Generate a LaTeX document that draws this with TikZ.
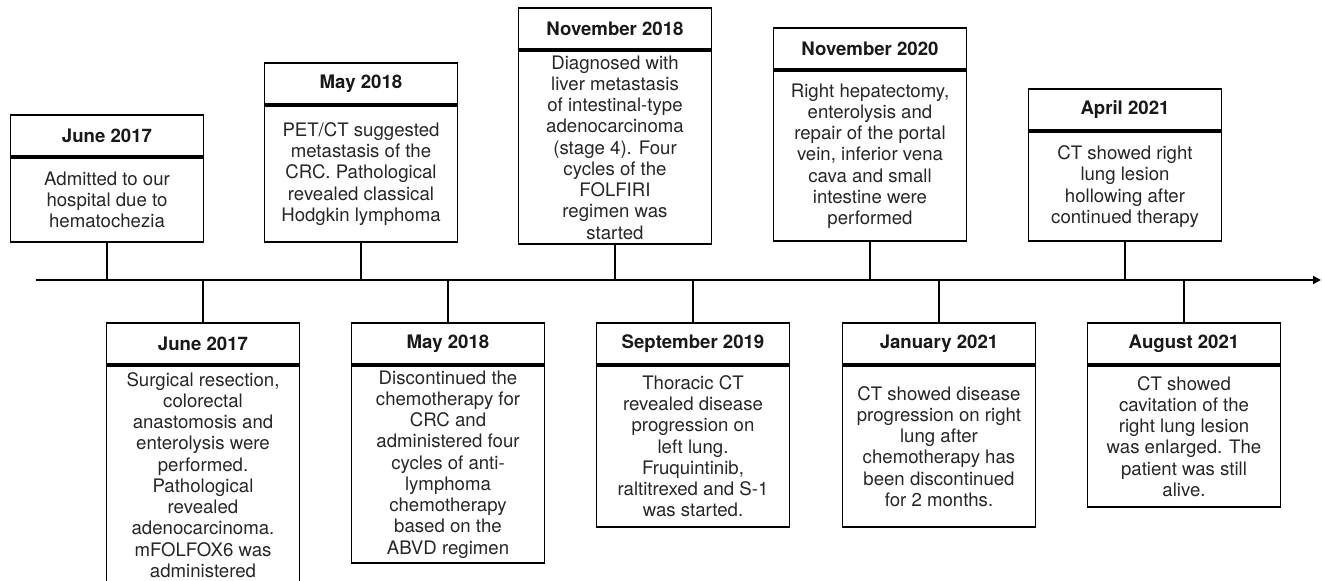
\documentclass[tikz,border=0pt]{standalone}
\usepackage{fontspec}
\setmainfont{TeX Gyre Heros}
\usetikzlibrary{positioning}
\usetikzlibrary{arrows.meta}

\begin{document}
\begin{tikzpicture}[
  x=0.02cm, y=-0.02cm,
  line width=1.1pt,
  datebox/.style={draw, minimum width=3.86cm, minimum height=0.82cm, inner sep=1pt,
    text=black!90, font={\fontsize{10.6pt}{12.1pt}\selectfont\bfseries}},
  eventbox/.style={draw, minimum width=3.86cm, inner sep=1pt, align=center,
    text=black!85, font={\fontsize{10.6pt}{12.1pt}\selectfont}}
]

\useasboundingbox (0,0) rectangle (1322,581);

% time axis
\coordinate (start) at (36,280);
\coordinate (end) at (1321,280);
\draw [-{Triangle[length=4.5pt,width=4.5pt]}] (start) -- (end);

% events above the axis
\node (admit) [eventbox, minimum height=1.68cm, anchor=south] at (107,243) {
  Admitted to our\\hospital due to\\hematochezia
};
\node (admitDate) [datebox, above=0pt of admit] {June 2017};

\node (petct) [eventbox, minimum height=2.72cm, anchor=south] at (361,243) {
  PET/CT suggested\\metastasis of the\\CRC. Pathological\\revealed classical\\Hodgkin lymphoma
};
\node (petctDate) [datebox, above=0pt of petct] {May 2018};

\node (liver) [eventbox, minimum height=3.86cm, anchor=south] at (615,245) {
  Diagnosed with\\liver metastasis\\of intestinal-type\\adenocarcinoma\\(stage 4). Four\\cycles of the\\FOLFIRI\\regimen was\\started
};
\node (liverDate) [datebox, above=0pt of liver] {November 2018};

\node (hepat) [eventbox, minimum height=3.40cm, anchor=south] at (870,242) {
  Right hepatectomy,\\enterolysis and\\repair of the portal\\vein, inferior vena\\cava and small\\intestine were\\performed
};
\node (hepatDate) [datebox, above=0pt of hepat] {November 2020};

\node (hollow) [eventbox, minimum height=2.18cm, anchor=south] at (1125,242) {
  CT showed right\\lung lesion\\hollowing after\\continued therapy
};
\node (hollowDate) [datebox, above=0pt of hollow] {April 2021};

% events below the axis
\node (resectDate) [datebox, anchor=north] at (203,322) {June 2017};
\node (resect) [eventbox, minimum height=4.36cm, below=0pt of resectDate] {
  Surgical resection,\\colorectal\\anastomosis and\\enterolysis were\\performed.\\Pathological\\revealed\\adenocarcinoma.\\mFOLFOX6 was\\administered
};

\node (abvdDate) [datebox, anchor=north] at (448,322) {May 2018};
\node (abvd) [eventbox, minimum height=3.94cm, below=0pt of abvdDate] {
  Discontinued the\\chemotherapy for\\CRC and\\administered four\\cycles of anti-\\lymphoma\\chemotherapy\\based on the\\ABVD regimen
};

\node (thoraxDate) [datebox, anchor=north] at (693,322) {September 2019};
\node (thorax) [eventbox, minimum height=3.22cm, below=0pt of thoraxDate] {
  Thoracic CT\\revealed disease\\progression on\\left lung.\\Fruquintinib,\\raltitrexed and S-1\\was started.
};

\node (progrDate) [datebox, anchor=north] at (939,322) {January 2021};
\node (progr) [eventbox, minimum height=3.22cm, below=0pt of progrDate] {
  CT showed disease\\progression on right\\lung after\\chemotherapy has\\been discontinued\\for 2 months.
};

\node (cavitDate) [datebox, anchor=north] at (1184,322) {August 2021};
\node (cavit) [eventbox, minimum height=2.82cm, below=0pt of cavitDate] {
  CT showed\\cavitation of the\\right lung lesion\\was enlarged. The\\patient was still\\alive.
};

% stems to the axis
\draw (admit.south) -- (admit.south |- start);
\draw (petct.south) -- (petct.south |- start);
\draw (liver.south) -- (liver.south |- start);
\draw (hepat.south) -- (hepat.south |- start);
\draw (hollow.south) -- (hollow.south |- start);
\draw (resectDate.north) -- (resectDate.north |- start);
\draw (abvdDate.north) -- (abvdDate.north |- start);
\draw (thoraxDate.north) -- (thoraxDate.north |- start);
\draw (progrDate.north) -- (progrDate.north |- start);
\draw (cavitDate.north) -- (cavitDate.north |- start);

\end{tikzpicture}
\end{document}
